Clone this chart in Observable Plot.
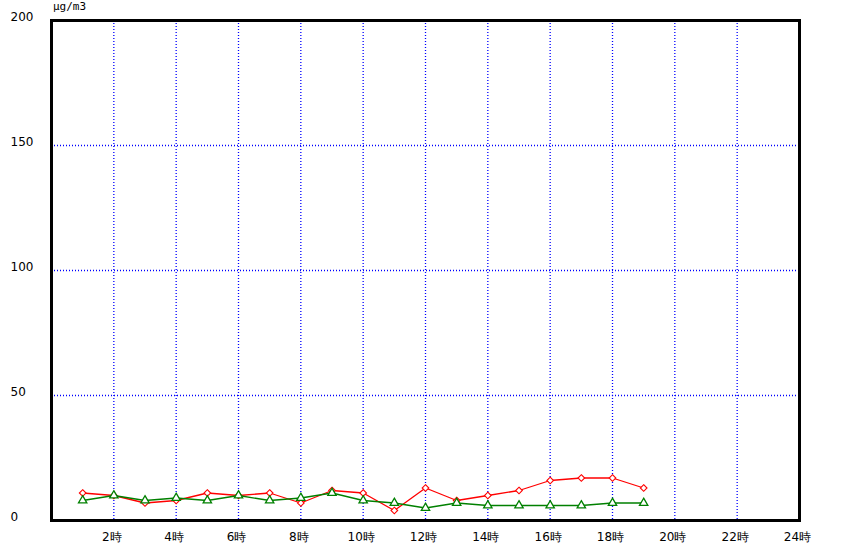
<!DOCTYPE html>
<html><head><meta charset="utf-8">
<script src="https://cdn.jsdelivr.net/npm/d3@7"></script>
<script src="https://cdn.jsdelivr.net/npm/@observablehq/plot@0.6"></script>
<style>
body{margin:0;background:#fff;}
#chart{position:relative;width:848px;height:550px;}
#unit{position:absolute;left:53px;top:0px;font:11px "DejaVu Sans Mono",monospace;color:#000;letter-spacing:0px;}
</style>
</head><body>
<div id="chart"><div id="unit">μg/m3</div></div>
<script>
const hours = [1,2,3,4,5,6,7,8,9,10,11,12,13,14,15,16,17,18,19];
const redValues = [11,10,7,8,11,10,11,7,12,11,4,13,8,10,12,16,17,17,13];
const greenValues = [8,10,8,9,8,10,8,9,11,8,7,5,7,6,6,6,6,7,7];
const xTicks = [2,4,6,8,10,12,14,16,18,20,22,24];
const yTicks = [0,50,100,150,200];
const gridX = [2,4,6,8,10,12,14,16,18,20,22];
const gridY = [50,100,150];

const red = hours.map((h,i)=>({h, v: redValues[i]}));
const green = hours.map((h,i)=>({h, v: greenValues[i]}));

const plot = Plot.plot({
  width: 848, height: 550,
  marginLeft: 51, marginRight: 49, marginTop: 20, marginBottom: 30,
  style: {fontFamily: '"DejaVu Sans", sans-serif', fontSize: "12px", background: "white"},
  x: {domain: [0,24]},
  y: {domain: [0,200]},
  marks: [
    Plot.ruleX(gridX, {stroke: "#0000ff", strokeDasharray: "1,2", strokeWidth: 1.3}),
    Plot.ruleY(gridY, {stroke: "#0000ff", strokeDasharray: "1,2", strokeWidth: 1.3}),
    Plot.axisX({ticks: xTicks, tickSize: 0, tickPadding: 12, tickFormat: d => d + "時", label: null, dx: -2}),
    Plot.axisY({ticks: yTicks, tickSize: 0, tickPadding: 0, textAnchor: "start", dx: -41, dy: -3, label: null}),
    Plot.line(red, {x: "h", y: "v", stroke: "#ff0000", strokeWidth: 1.3}),
    Plot.dot(red, {x: "h", y: "v", symbol: "diamond2", r: 3, stroke: "#ff0000", fill: "white", strokeWidth: 1.1}),
    Plot.line(green, {x: "h", y: "v", stroke: "#008000", strokeWidth: 1.3}),
    Plot.dot(green, {x: "h", y: "v", symbol: "triangle", r: 3.1, stroke: "#008000", fill: "white", strokeWidth: 1.3}),
    Plot.frame({stroke: "black", strokeWidth: 3})
  ]
});
document.getElementById("chart").appendChild(plot);
</script>
</body></html>
